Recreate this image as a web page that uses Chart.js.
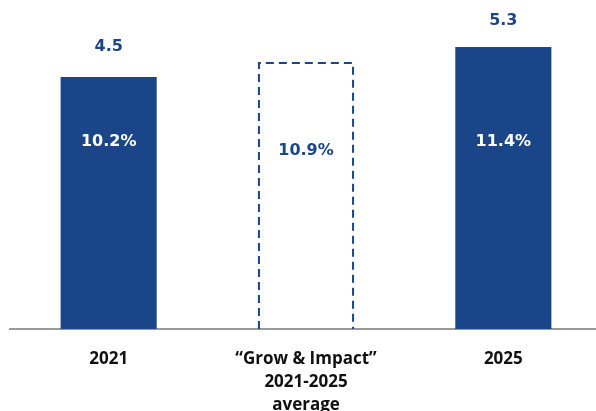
<!DOCTYPE html>
<html>
<head>
<meta charset="utf-8">
<script src="https://cdn.jsdelivr.net/npm/chart.js"></script>
<style>
  html, body { margin: 0; padding: 0; background: #fff; overflow: hidden; }
  #wrap { width: 604px; height: 411px; }
</style>
</head>
<body>
<div id="wrap"><canvas id="chart"></canvas></div>
<script>
// chart values
const categories = [['2021'], ['\u201CGrow & Impact\u201D', '2021-2025', 'average'], ['2025']];
const values = [4.5, 4.9, 5.3];
const valueLabels = ['4.5', '', '5.3'];
const shareLabels = ['10.2%', '10.9%', '11.4%'];

const navy = '#1a4589';
const yMin = -2.22;

// draws the dashed outline bar and the text labels on the bars
const barLabels = {
    id: 'barLabels',
    afterDatasetsDraw(chart) {
        const ctx = chart.ctx;
        const bars = chart.getDatasetMeta(0).data;
        const above = [30, 0, 26];
        const inner = [65, 89, 95];
        ctx.save();
        bars.forEach((bar, i) => {
            if (i === 1) {
                const left = bar.x - bar.width / 2 + 1;
                const right = bar.x + bar.width / 2 - 1;
                ctx.strokeStyle = navy;
                ctx.lineWidth = 2;
                ctx.setLineDash([8, 5]);
                ctx.beginPath();
                ctx.moveTo(left, bar.base);
                ctx.lineTo(left, bar.y + 1);
                ctx.lineTo(right, bar.y + 1);
                ctx.lineTo(right, bar.base);
                ctx.stroke();
                ctx.setLineDash([]);
            }
            ctx.font = 'bold 16px "DejaVu Sans"';
            ctx.textAlign = 'center';
            ctx.textBaseline = 'middle';
            ctx.fillStyle = navy;
            if (valueLabels[i]) ctx.fillText(valueLabels[i], bar.x, bar.y - above[i]);
            ctx.fillStyle = i === 1 ? navy : '#fff';
            ctx.fillText(shareLabels[i], bar.x, bar.y + inner[i]);
        });
        ctx.restore();
    }
};

new Chart(document.querySelector('#chart').getContext('2d'), {
    type: 'bar',
    data: {
        labels: categories,
        datasets: [{
            data: values,
            base: yMin,
            backgroundColor: [navy, 'rgba(0,0,0,0)', navy],
            borderWidth: 0,
            categoryPercentage: 1,
            barPercentage: 0.487
        }]
    },
    options: {
        responsive: true,
        maintainAspectRatio: false,
        animation: false,
        layout: { padding: { left: 10, right: 2, top: 0, bottom: 0 } },
        plugins: { legend: { display: false }, tooltip: { enabled: false } },
        scales: {
            x: {
                grid: { display: false },
                border: { display: true, color: '#9a9a9a', width: 2 },
                afterFit(scale) { scale.height = 82; },
                ticks: {
                    color: '#111',
                    padding: 10,
                    font: { family: 'Open Sans', size: 17, weight: 'bold', lineHeight: 1.38 }
                }
            },
            y: { display: false, min: yMin, max: 6.55 }
        }
    },
    plugins: [barLabels]
});
</script>
</body>
</html>
